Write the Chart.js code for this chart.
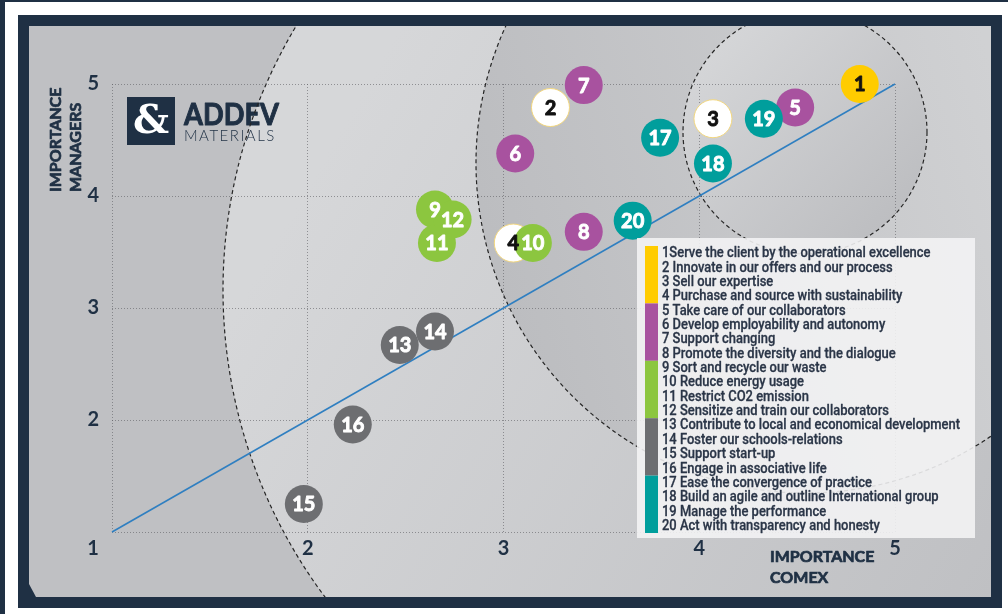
<!DOCTYPE html>
<html>
<head>
<meta charset="utf-8">
<script src="https://cdn.jsdelivr.net/npm/chart.js@4.4.1/dist/chart.umd.min.js"></script>
<style>
  html, body { margin: 0; padding: 0; background: #fff; overflow: hidden; }
  #wrap { width: 1008px; height: 614px; }
</style>
</head>
<body>
<div id="wrap"><canvas id="chart" width="1008" height="614"></canvas></div>
<script>
// ============================================================
// DATA
// ============================================================

const itemIds = [1, 2, 3, 4, 5, 6, 7, 8, 9, 10, 11, 12, 13, 14, 15, 16, 17, 18, 19, 20];
const comexScores = [4.82, 3.24, 4.07, 3.05, 4.49, 3.06, 3.41, 3.41, 2.65, 3.15,
                     2.66, 2.74, 2.47, 2.65, 1.98, 2.23, 3.80, 4.07, 4.33, 3.66];
const managerScores = [5.00, 4.79, 4.69, 3.58, 4.79, 4.38, 4.99, 3.68, 3.88, 3.58,
                       3.58, 3.79, 2.67, 2.79, 1.25, 1.96, 4.52, 4.29, 4.69, 3.78];
// which theme each item belongs to (index into themeNames)
const itemTheme = [0, 0, 0, 0, 1, 1, 1, 1, 2, 2, 2, 2, 3, 3, 3, 3, 4, 4, 4, 4];
const themeNames = ['Client', 'People', 'Environment', 'Territory', 'Governance'];
const legendLabels = [
  '1Serve the client by the operational excellence',
  '2 Innovate in our offers and our process',
  '3 Sell our expertise',
  '4 Purchase and source with sustainability',
  '5 Take care of our collaborators',
  '6 Develop employability and autonomy',
  '7 Support changing',
  '8 Promote the diversity and the dialogue',
  '9 Sort and recycle our waste',
  '10 Reduce energy usage',
  '11 Restrict CO2 emission',
  '12 Sensitize and train our collaborators',
  '13 Contribute to local and economical development',
  '14 Foster our schools-relations',
  '15 Support start-up',
  '16 Engage in associative life',
  '17 Ease the convergence of practice',
  '18 Build an agile and outline International group',
  '19 Manage the performance',
  '20 Act with transparency and honesty'
];
const axisMin = 1;
const axisMax = 5;
const diagonal = [1, 5]; // reference line y = x

// ============================================================
// STYLE
// ============================================================

const NAVY = '#1f3044';
const THEME_COLORS = ['#ffcc00', '#a8529f', '#8cc63f', '#6d6e71', '#009e9c'];
const WHITE_ITEMS = [2, 3, 4];           // drawn as white discs
const THEME_ORDER = [4, 6, 1, 2, 3];     // lower = drawn on top
const LABEL_FONT = 'bold 20px Lato, "DejaVu Sans", sans-serif';
const TICK_FONT = { family: 'Lato, "DejaVu Sans", sans-serif', size: 20, weight: 'bold' };
const LEGEND_FONT = '500 15px Roboto, "DejaVu Sans Condensed", sans-serif';
const LEGEND_TEXT_WIDTH = 298;           // width of the longest legend line

// ============================================================
// DATASETS
// ============================================================

function pointsFor(filter) {
  const pts = [];
  itemIds.forEach((id, i) => {
    if (filter(id, i)) pts.push({ x: comexScores[i], y: managerScores[i], id });
  });
  return pts;
}

const datasets = themeNames.map((name, t) => ({
  label: name,
  type: 'scatter',
  data: pointsFor((id, i) => itemTheme[i] === t && !WHITE_ITEMS.includes(id)),
  backgroundColor: THEME_COLORS[t],
  borderWidth: 0,
  pointRadius: 19,
  pointHoverRadius: 19,
  clip: false,
  order: THEME_ORDER[t],
  textColor: t === 0 ? '#111' : '#fff'
}));

datasets.push({
  label: 'White',
  type: 'scatter',
  data: pointsFor(id => WHITE_ITEMS.includes(id)),
  backgroundColor: '#ffffff',
  borderColor: '#f3d77e',
  borderWidth: 1,
  pointRadius: 19,
  pointHoverRadius: 19,
  clip: false,
  order: 5,
  textColor: '#111'
});

datasets.push({
  label: 'Trend',
  type: 'line',
  data: diagonal.map(v => ({ x: v, y: v })),
  borderColor: '#2f7fc1',
  borderWidth: 1.6,
  pointRadius: 0,
  fill: false,
  clip: false,
  order: 10
});

// ============================================================
// BACKGROUND PLUGIN — frame, shaded rings, logo
// ============================================================

const RINGS = [
  { cx: 736, cy: 290, r: 513, g: [300, 200, 990, 600, '#d6d7d9', '#bfc0c3'] },
  { cx: 806, cy: 163, r: 330, g: [480, 200, 990, 60, '#bcbdc0', '#d0d1d3'] },
  { cx: 805, cy: 132, r: 122, g: [700, 40, 900, 240, '#d6d7d9', '#bbbcbf'] }
];

function panelPath(ctx) {
  ctx.beginPath();
  ctx.moveTo(29, 26);
  ctx.lineTo(991, 26);
  ctx.lineTo(991, 597);
  ctx.lineTo(36, 597);
  ctx.lineTo(29, 584);
  ctx.closePath();
}

// fill + thin stroke in the same colour, to get a heavier glyph
function heavyText(ctx, txt, x, y, w, maxW) {
  ctx.lineWidth = w;
  ctx.strokeStyle = ctx.fillStyle;
  ctx.lineJoin = 'round';
  if (maxW) {
    ctx.strokeText(txt, x, y, maxW);
    ctx.fillText(txt, x, y, maxW);
  } else {
    ctx.strokeText(txt, x, y);
    ctx.fillText(txt, x, y);
  }
}

const backgroundPlugin = {
  id: 'background',
  beforeDraw(chart) {
    const ctx = chart.ctx;
    ctx.save();
    ctx.fillStyle = '#ffffff';
    ctx.fillRect(0, 0, 1008, 614);
    ctx.fillStyle = NAVY;
    ctx.fillRect(0, 0, 1008, 2);
    ctx.fillRect(0, 0, 5, 614);
    ctx.fillRect(18, 15, 984, 593);

    panelPath(ctx);
    ctx.fillStyle = '#bfc0c3';
    ctx.fill();
    ctx.clip();

    RINGS.forEach(r => {
      const grad = ctx.createLinearGradient(r.g[0], r.g[1], r.g[2], r.g[3]);
      grad.addColorStop(0, r.g[4]);
      grad.addColorStop(1, r.g[5]);
      ctx.beginPath();
      ctx.arc(r.cx, r.cy, r.r, 0, Math.PI * 2);
      ctx.fillStyle = grad;
      ctx.fill();
    });

    // logo
    ctx.fillStyle = NAVY;
    ctx.fillRect(127, 97, 48, 48);
    ctx.fillStyle = '#fff';
    ctx.font = 'bold 40px "DejaVu Serif", serif';
    ctx.textAlign = 'center';
    ctx.textBaseline = 'middle';
    ctx.fillText('&', 151, 123);
    ctx.fillStyle = NAVY;
    ctx.textAlign = 'left';
    ctx.textBaseline = 'alphabetic';
    ctx.font = 'bold 31px Lato, sans-serif';
    heavyText(ctx, 'ADDEV', 184, 125, 1, 95);
    ctx.font = '300 15px Lato, sans-serif';
    ctx.letterSpacing = '1.5px';
    ctx.fillText('MATERIALS', 184, 141, 96);
    ctx.letterSpacing = '0px';

    // dashed rings
    ctx.strokeStyle = '#262626';
    ctx.lineWidth = 1.2;
    ctx.setLineDash([4, 3]);
    RINGS.forEach(r => {
      ctx.beginPath();
      ctx.arc(r.cx, r.cy, r.r, 0, Math.PI * 2);
      ctx.stroke();
    });
    ctx.restore();
  }
};

// ============================================================
// LABELS + LEGEND PLUGIN
// ============================================================

const overlayPlugin = {
  id: 'overlay',
  afterDatasetsDraw(chart) {
    const ctx = chart.ctx;
    ctx.save();
    ctx.font = LABEL_FONT;
    ctx.textAlign = 'center';
    ctx.textBaseline = 'middle';
    chart.data.datasets.forEach((ds, i) => {
      if (ds.type !== 'scatter') return;
      const meta = chart.getDatasetMeta(i);
      meta.data.forEach((el, j) => {
        ctx.fillStyle = ds.textColor;
        heavyText(ctx, String(ds.data[j].id), el.x, el.y + 1, 0.9);
      });
    });
    ctx.restore();
  },
  afterDraw(chart) {
    const ctx = chart.ctx;
    ctx.save();

    // legend box
    ctx.fillStyle = 'rgba(244,244,245,0.88)';
    ctx.fillRect(637, 238, 338, 300);
    const top = 246, pitch = 14.35;
    themeNames.forEach((_, t) => {
      const first = itemTheme.indexOf(t);
      const count = itemTheme.filter(v => v === t).length;
      ctx.fillStyle = THEME_COLORS[t];
      ctx.fillRect(645, top + first * pitch, 13, count * pitch);
    });
    ctx.fillStyle = '#2a3547';
    ctx.font = LEGEND_FONT;
    ctx.textAlign = 'left';
    ctx.textBaseline = 'middle';
    const longest = Math.max(...legendLabels.map(t => ctx.measureText(t).width));
    const sx = LEGEND_TEXT_WIDTH / longest;
    legendLabels.forEach((txt, i) => {
      ctx.save();
      ctx.translate(662, top + 7.5 + i * pitch);
      ctx.scale(sx, 1);
      heavyText(ctx, txt, 0, 0, 0.3);
      ctx.restore();
    });

    // axis titles
    ctx.fillStyle = NAVY;
    ctx.font = 'bold 16px Lato, sans-serif';
    ctx.textBaseline = 'middle';
    heavyText(ctx, 'IMPORTANCE', 770, 557, 0.7);
    heavyText(ctx, 'COMEX', 770, 578, 0.7);
    ctx.save();
    ctx.translate(56, 192);
    ctx.rotate(-Math.PI / 2);
    heavyText(ctx, 'IMPORTANCE', 0, 0, 0.7);
    heavyText(ctx, 'MANAGERS', 0, 20, 0.7);
    ctx.restore();

    // shared origin label
    ctx.font = 'bold 20px Lato, "DejaVu Sans", sans-serif';
    ctx.textAlign = 'center';
    ctx.fillText('1', 93, 549);
    ctx.restore();
  }
};

// ============================================================
// CHART
// ============================================================

const hideOrigin = v => (v === axisMin ? '' : v);

new Chart(document.getElementById('chart').getContext('2d'), {
  data: { datasets },
  options: {
    responsive: false,
    animation: false,
    devicePixelRatio: 1,
    events: [],
    layout: { padding: { left: 0, top: 84, right: 113, bottom: 0 } },
    plugins: { legend: { display: false }, tooltip: { enabled: false } },
    scales: {
      x: {
        type: 'linear',
        min: axisMin,
        max: axisMax,
        ticks: { stepSize: 1, callback: hideOrigin, color: NAVY, font: TICK_FONT, padding: 5 },
        grid: { color: 'rgba(95,95,100,0.6)', lineWidth: 1, drawTicks: false },
        border: { display: false, dash: [1, 2] },
        afterFit: s => { s.height = 82; }
      },
      y: {
        type: 'linear',
        min: axisMin,
        max: axisMax,
        ticks: { stepSize: 1, callback: hideOrigin, color: NAVY, font: TICK_FONT, padding: 13 },
        grid: { color: 'rgba(95,95,100,0.6)', lineWidth: 1, drawTicks: false },
        border: { display: false, dash: [1, 2] },
        afterFit: s => { s.width = 112; }
      }
    }
  },
  plugins: [backgroundPlugin, overlayPlugin]
});
</script>
</body>
</html>
